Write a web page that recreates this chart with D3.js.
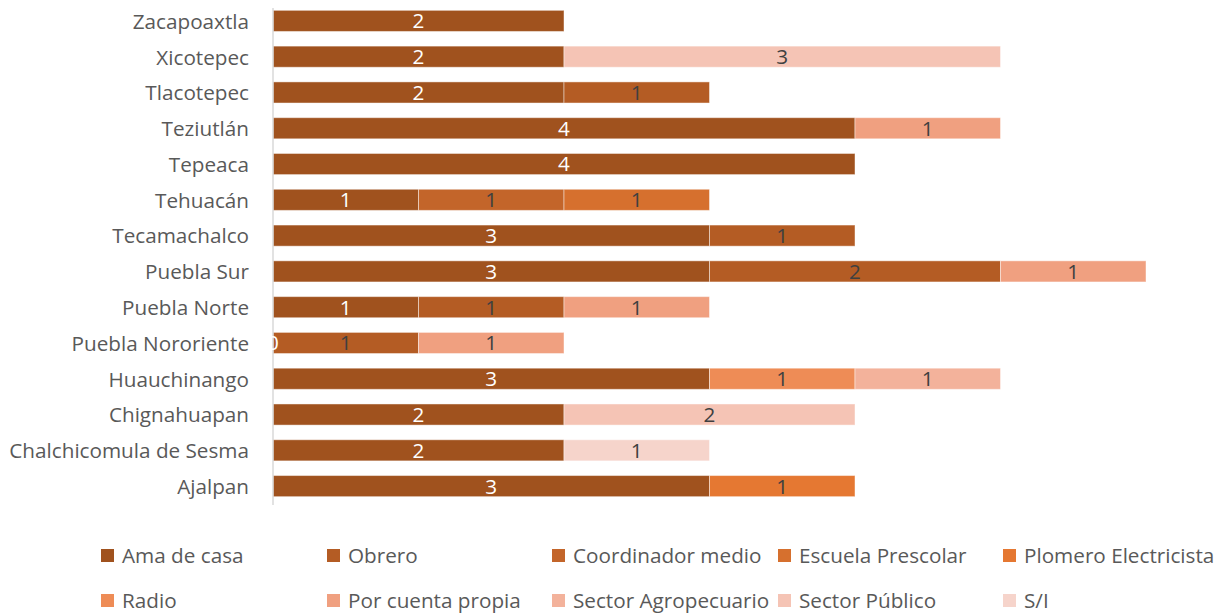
<!DOCTYPE html>
<html>
<head>
<meta charset="utf-8">
<script src="https://cdn.jsdelivr.net/npm/d3@7"></script>
<style>
  html, body { margin: 0; padding: 0; background: #fff; }
  svg { display: block; }
  text { font-family: "Open Sans", Lato, sans-serif; }
</style>
</head>
<body>
<svg id="chart" width="1229" height="616"></svg>
<script>
// Regions, top to bottom
const categories = [
  "Zacapoaxtla", "Xicotepec", "Tlacotepec", "Teziutlán", "Tepeaca", "Tehuacán",
  "Tecamachalco", "Puebla Sur", "Puebla Norte", "Puebla Nororiente",
  "Huauchinango", "Chignahuapan", "Chalchicomula de Sesma", "Ajalpan"
];

// Occupation series (stack order) and their colours
const seriesNames = [
  "Ama de casa", "Obrero", "Coordinador medio", "Escuela Prescolar",
  "Plomero Electricista", "Radio", "Por cuenta propia",
  "Sector Agropecuario", "Sector Público", "S/I"
];
const seriesColors = [
  "#A0521E", "#B45C24", "#C3652A", "#D6702E", "#E57832",
  "#EE8C56", "#F0A080", "#F3B29B", "#F5C4B5", "#F6D4CB"
];

// Values per series, aligned with categories (null = no segment)
const amaDeCasa          = [2, 2, 2, 4, 4, 1, 3, 3, 1, 0, 3, 2, 2, 3];
const obrero             = [null, null, 1, null, null, null, 1, 2, 1, 1, null, null, null, null];
const coordinadorMedio   = [null, null, null, null, null, 1, null, null, null, null, null, null, null, null];
const escuelaPrescolar   = [null, null, null, null, null, 1, null, null, null, null, null, null, null, null];
const plomeroElectricista= [null, null, null, null, null, null, null, null, null, null, null, null, null, 1];
const radio              = [null, null, null, null, null, null, null, null, null, null, 1, null, null, null];
const porCuentaPropia    = [null, null, null, 1, null, null, null, 1, 1, 1, null, null, null, null];
const sectorAgropecuario = [null, null, null, null, null, null, null, null, null, null, 1, null, null, null];
const sectorPublico      = [null, 3, null, null, null, null, null, null, null, null, null, 2, null, null];
const sinInformacion     = [null, null, null, null, null, null, null, null, null, null, null, null, 1, null];

const seriesValues = [
  amaDeCasa, obrero, coordinadorMedio, escuelaPrescolar, plomeroElectricista,
  radio, porCuentaPropia, sectorAgropecuario, sectorPublico, sinInformacion
];

const svg = d3.select("#chart");

const x = d3.scaleLinear().domain([0, 6]).range([273, 1146]);
const y = d3.scaleBand().domain(categories).range([3, 504]).paddingInner(0.41).paddingOuter(0.205);

// Build stacked rows
const rows = categories.map((c, i) => {
  const r = { category: c };
  seriesNames.forEach((s, k) => { r[s] = seriesValues[k][i] == null ? 0 : seriesValues[k][i]; });
  return r;
});
const stacked = d3.stack().keys(seriesNames)(rows);

// Bars
const barLayer = svg.append("g");
stacked.forEach((layer, k) => {
  barLayer.append("g")
    .attr("fill", seriesColors[k])
    .selectAll("rect")
    .data(layer.map((d, i) => ({ d, i })).filter(o => seriesValues[k][o.i] != null && seriesValues[k][o.i] > 0))
    .join("rect")
      .attr("x", o => x(o.d[0]))
      .attr("y", o => y(categories[o.i]))
      .attr("width", o => x(o.d[1]) - x(o.d[0]))
      .attr("height", y.bandwidth())
      .attr("stroke", "#fff")
      .attr("stroke-opacity", 0.45)
      .attr("stroke-width", 1);
});

// Category axis
const yAxis = svg.append("g")
  .attr("transform", `translate(${x(0)},0)`)
  .call(d3.axisLeft(y).tickSize(0).tickPadding(24));
yAxis.select(".domain").attr("stroke", "#D9D9D9").attr("stroke-width", 1.5)
  .attr("d", `M0,8V505`);
yAxis.selectAll("text")
  .attr("fill", "#595959")
  .attr("dy", "0.38em")
  .style("font-size", "20.7px")
  .style("font-family", "'Open Sans', Lato, sans-serif");

// Value labels
const labelLayer = svg.append("g")
  .attr("text-anchor", "middle")
  .style("font-size", "20.7px");
stacked.forEach((layer, k) => {
  labelLayer.selectAll(null)
    .data(layer.map((d, i) => ({ d, i })).filter(o => seriesValues[k][o.i] != null))
    .join("text")
      .attr("x", o => (x(o.d[0]) + x(o.d[1])) / 2)
      .attr("y", o => y(categories[o.i]) + y.bandwidth() / 2)
      .attr("dy", "0.36em")
      .attr("fill", k === 0 ? "#FFFFFF" : "#404040")
      .text(o => seriesValues[k][o.i]);
});

// Legend
const legendCols = [101, 327, 552, 778, 1003];
const legendRows = [556, 601];
const legend = svg.append("g");
seriesNames.forEach((name, k) => {
  const gx = legendCols[k % 5];
  const gy = legendRows[Math.floor(k / 5)];
  const g = legend.append("g").attr("transform", `translate(${gx},${gy})`);
  g.append("rect").attr("x", 0).attr("y", -7).attr("width", 13).attr("height", 13)
    .attr("fill", seriesColors[k]);
  g.append("text").attr("x", 21).attr("y", 0).attr("dy", "0.36em")
    .attr("fill", "#595959").style("font-size", "20.7px").text(name);
});
</script>
</body>
</html>
